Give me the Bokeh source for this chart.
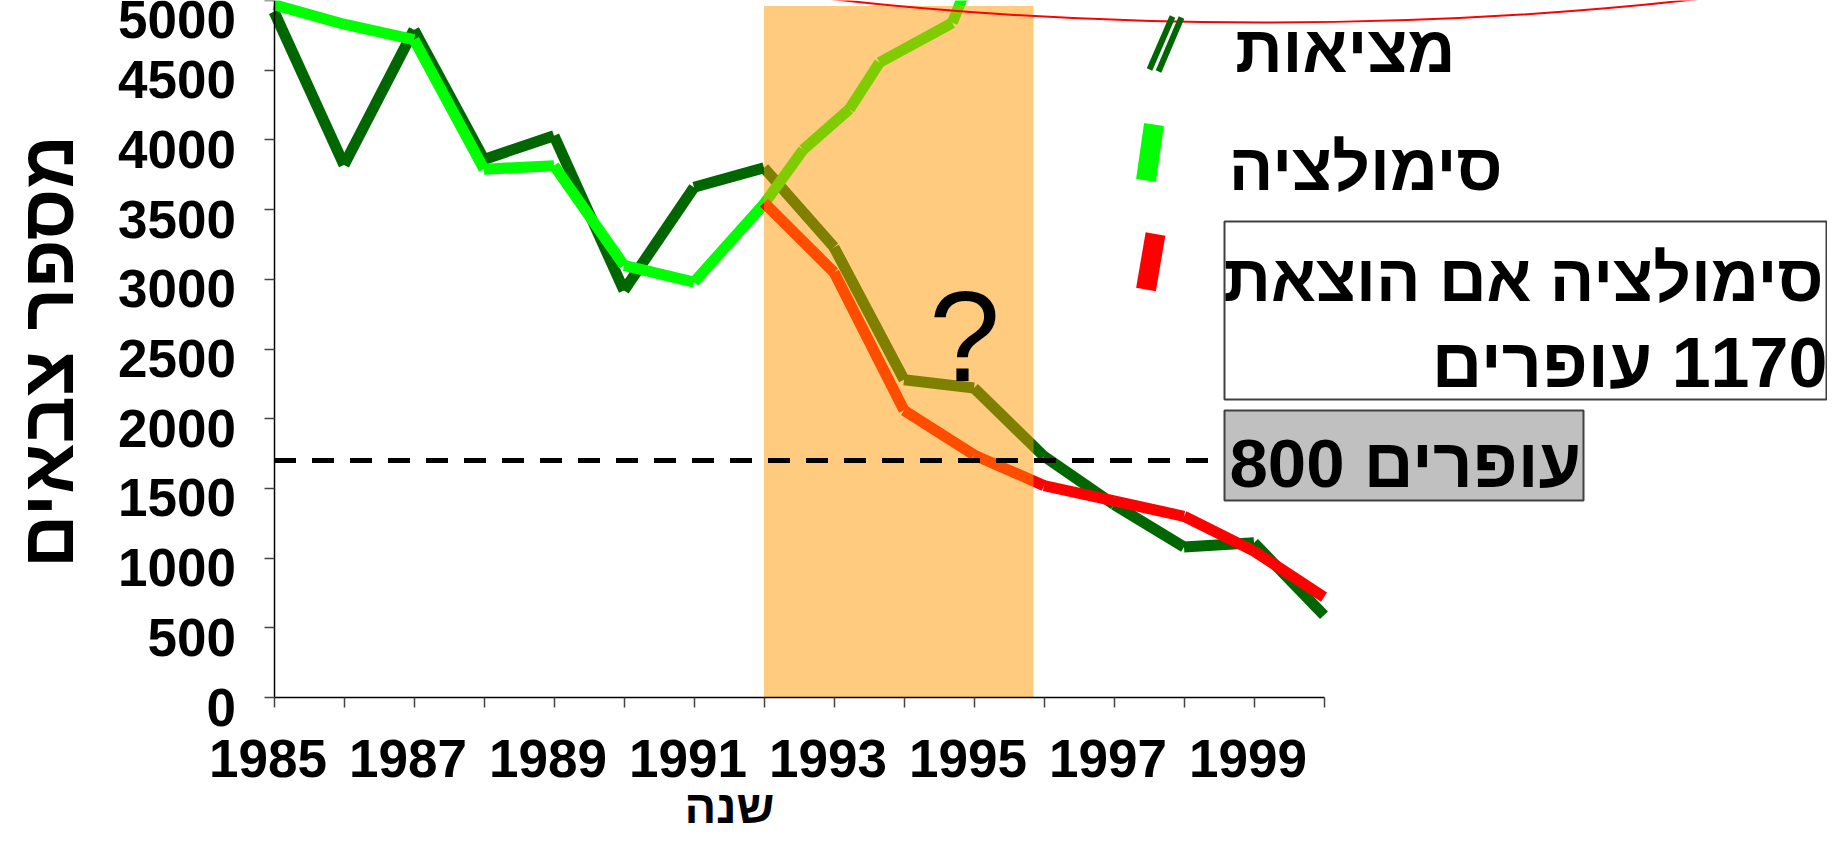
import numpy as np
from bokeh.plotting import figure
from bokeh.models import Range1d, FixedTicker, LinearAxis
from bokeh.core.properties import value
from bokeh.embed import file_html
from bokeh.resources import INLINE

# ---------------- data ----------------
years = list(range(1985, 2001))
reality = [4920, 3820, 4790, 3860, 4030, 2920, 3660, 3800, 3230, 2280, 2220, 1730, 1385, 1080, 1110, 590]

sim_years = [1985, 1986, 1987, 1988, 1989, 1990, 1991, 1992, 1992.56, 1993.22, 1993.65, 1994.69, 1994.79, 1994.86]
sim_values = [4970, 4830, 4720, 3790, 3815, 3100, 2980, 3540, 3930, 4220, 4555, 4840, 4965, 5060]

removal_years = list(range(1992, 2001))
removal_values = [3550, 3050, 2060, 1740, 1520, 1410, 1300, 1050, 720]

threshold = 1700
shade_start, shade_end, shade_top = 1992, 1995.85, 4960

x_ticks = years
x_tick_labels = ["1985", "", "1987", "", "1989", "", "1991", "", "1993", "", "1995", "", "1997", "", "1999", ""]
y_ticks = list(range(0, 5001, 500))
y_tick_labels = [str(v) for v in y_ticks]

y_title = "מספר צבאים"
x_title = "שנה"
legend_labels = ["מציאות", "סימולציה"]
box1_lines = ["סימולציה אם הוצאת", "\u200f1170 עופרים"]
box2_text = "800 עופרים"

# ---------------- layout helpers (page pixels -> data) ----------------
X0, PXY = 281.5, 70.0
Y0, PXU = 705.0, 0.1394
def dx(px):
    return 1985 + (px - X0) / PXY
def dy(py):
    return (Y0 - py) / PXU

BASE_SHIFT = 0.28           # renderer puts the alphabetic baseline a bit below the anchor
def anchor(baseline_px, size_px):
    return baseline_px - BASE_SHIFT * size_px

FONT = "Liberation Sans"
DARK = "#006600"
BRIGHT = "#00FF00"
RED = "#FF0000"
LW = 11

p = figure(width=1827, height=832, output_backend="svg", toolbar_location=None,
           x_range=Range1d(dx(8), dx(1835)), y_range=Range1d(dy(840), dy(8)),
           min_border_left=0, min_border_right=0, min_border_top=0, min_border_bottom=0)
p.title.visible = False
p.outline_line_color = None
p.xgrid.visible = False
p.ygrid.visible = False
p.background_fill_color = "white"

def segs(xs, ys, color, width=LW):
    p.segment(x0=xs[:-1], y0=ys[:-1], x1=xs[1:], y1=ys[1:],
              line_color=color, line_width=width, line_cap="butt")

segs(years, reality, DARK)
segs(sim_years, sim_values, BRIGHT)
segs(removal_years, removal_values, RED)

# translucent orange window on top of lines
p.quad(left=[shade_start], right=[shade_end], bottom=[0], top=[shade_top],
       fill_color="#FF9900", fill_alpha=0.5, line_color=None)

# red ellipse decoration
p.ellipse(x=[dx(1272)], y=[dy(-176)], width=[1870 / PXY], height=[412 / PXU],
          fill_color=None, line_color=RED, line_width=2)

# threshold line
p.segment(x0=[1985], y0=[threshold], x1=[dx(1232)], y1=[threshold],
          line_color="black", line_width=5, line_dash="22 16")

# boxes
p.quad(left=[dx(1232)], right=[dx(1834)], top=[dy(229)], bottom=[dy(407)],
       fill_color="white", line_color="#404040", line_width=2)
p.quad(left=[dx(1232)], right=[dx(1591)], top=[dy(418)], bottom=[dy(508)],
       fill_color="#C0C0C0", line_color="#404040", line_width=2)

# legend markers
p.segment(x0=[dx(1157), dx(1166)], y0=[dy(77), dy(79)], x1=[dx(1180), dx(1189)], y1=[dy(24), dy(25)],
          line_color=DARK, line_width=6, line_cap="butt")
p.segment(x0=[dx(1153.5)], y0=[dy(188)], x1=[dx(1161.5)], y1=[dy(132)],
          line_color=BRIGHT, line_width=20, line_cap="butt")
p.segment(x0=[dx(1153.5)], y0=[dy(297)], x1=[dx(1163)], y1=[dy(241.5)],
          line_color=RED, line_width=20, line_cap="butt")

def txt(px, baseline, s, size, align="right", bold=True, angle=0.0):
    p.text(x=[dx(px)], y=[dy(anchor(baseline, size))], text=[s], angle=angle,
           text_font=value(FONT), text_font_style="bold" if bold else "normal",
           text_font_size=value(f"{size}px"),
           text_align=align, text_baseline="alphabetic", text_color="black")

# legend texts
txt(1463, 75, legend_labels[0], 66)
txt(1510, 193, legend_labels[1], 66)
txt(1831, 304, box1_lines[0], 66)
txt(1831, 390, box1_lines[1], 70)
txt(1237, 490, box2_text, 69, align="left")

# question mark
txt(972, 380, "?", 128, align="center", bold=False)

# axis titles
p.text(x=[dx(76 - BASE_SHIFT * 74)], y=[dy(359)], text=[y_title], angle=np.pi / 2,
       text_font=value(FONT), text_font_style="bold", text_font_size=value("74px"),
       text_align="center", text_baseline="alphabetic", text_color="black")
txt(737, 827, x_title, 47, align="center")

# ---------------- axes ----------------
# tick/line axes (no labels)
xa = p.xaxis[0]
ya = p.yaxis[0]
xa.fixed_location = 0
ya.fixed_location = 1985
xa.ticker = FixedTicker(ticks=x_ticks)
ya.ticker = FixedTicker(ticks=y_ticks)
xa.bounds = (1985, 2000)
ya.bounds = (0, 5000)
for ax in (xa, ya):
    ax.axis_line_color = "black"
    ax.axis_line_width = 1.5
    ax.major_tick_line_color = "#444444"
    ax.major_tick_line_width = 1.5
    ax.major_tick_out = 10
    ax.major_tick_in = 0
    ax.minor_tick_line_color = None
    ax.major_label_text_font_size = "0px"
    ax.major_label_text_alpha = 0

# label axes (labels only)
X_SHIFT = 6 / PXY           # labels sit a few px left of their tick
Y_SHIFT = 9.5 / PXU         # label anchor below its tick
x_lab_ticks = [t - X_SHIFT for t, l in zip(x_ticks, x_tick_labels) if l]
x_lab_text = [l for l in x_tick_labels if l]
y_lab_ticks = [v - Y_SHIFT for v in y_ticks]

xl = LinearAxis(fixed_location=0, ticker=FixedTicker(ticks=x_lab_ticks),
                major_label_overrides={t: l for t, l in zip(x_lab_ticks, x_lab_text)})
yl = LinearAxis(fixed_location=1985, ticker=FixedTicker(ticks=y_lab_ticks),
                major_label_overrides={t: l for t, l in zip(y_lab_ticks, y_tick_labels)})
for ax in (xl, yl):
    ax.axis_line_color = None
    ax.major_tick_line_color = None
    ax.minor_tick_line_color = None
    ax.major_tick_out = 0
    ax.major_tick_in = 0
    ax.major_label_text_font = FONT
    ax.major_label_text_font_style = "bold"
    ax.major_label_text_font_size = "53px"
    ax.major_label_text_color = "black"
    ax.major_label_text_baseline = "alphabetic"
xl.major_label_text_align = "center"
xl.major_label_standoff = 42
yl.major_label_text_align = "right"
yl.major_label_standoff = 38
p.add_layout(xl, "below")
p.add_layout(yl, "left")

open("out.html", "w").write(file_html(p, INLINE))
